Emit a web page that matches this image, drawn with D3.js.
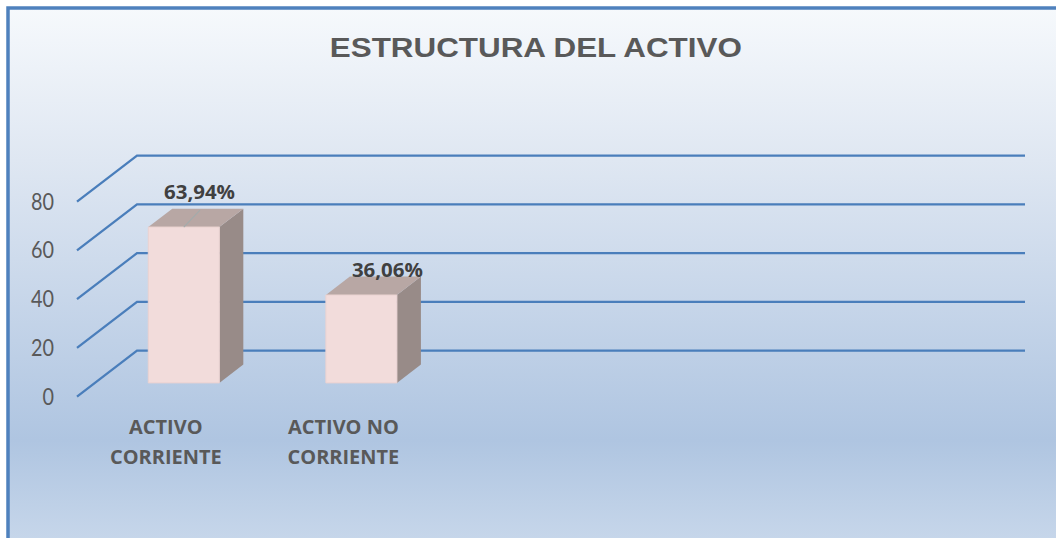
<!DOCTYPE html>
<html><head><meta charset="utf-8">
<script src="https://cdn.jsdelivr.net/npm/d3@7"></script>
<style>html,body{margin:0;padding:0;background:#fff;} svg{display:block}</style>
</head><body>
<svg id="chart" width="1056" height="538"></svg>
<script>
// ---- data ----
const title = "ESTRUCTURA DEL ACTIVO";
const categories = ["ACTIVO CORRIENTE", "ACTIVO NO CORRIENTE", "", "", ""];
const values = [63.94, 36.06, null, null, null];
const valueLabels = ["63,94%", "36,06%", null, null, null];
const yTicks = [0, 20, 40, 60, 80];
const yMax = 80;

// ---- layout ----
const svg = d3.select("#chart");
const defs = svg.append("defs");
const grad = defs.append("linearGradient").attr("id", "bg")
  .attr("gradientUnits", "userSpaceOnUse")
  .attr("x1", 0).attr("y1", 8).attr("x2", 0).attr("y2", 538);
[[0, "#f6f9fc"], [0.287, "#dfe7f2"], [0.815, "#afc5e1"], [1, "#c6d6ea"]]
  .forEach(([o, c]) => grad.append("stop").attr("offset", o).attr("stop-color", c));

svg.append("rect").attr("x", 8).attr("y", 8).attr("width", 1090).attr("height", 570)
  .attr("fill", "url(#bg)").attr("stroke", "#4f81bd").attr("stroke-width", 3.5);

const ctx = document.createElement("canvas").getContext("2d");
function kFor(font, sample, target) { ctx.font = font; return target / ctx.measureText(sample).width; }

const depth = { dx: 60, dy: -46 };
const x = d3.scaleBand().domain(d3.range(categories.length)).range([77, 965])
  .paddingInner(0.6).paddingOuter(0.3);
const y = d3.scaleLinear().domain([0, yMax]).range([396.7, 201.7]);
const P = (px, v, z) => [px + z * depth.dx, y(v) + z * depth.dy];
const [xl, xr] = x.range();

// gridlines (side wall diagonal + back wall horizontal)
svg.append("g").selectAll("path").data(yTicks).join("path")
  .attr("d", t => d3.line()([P(xl, t, 0), P(xl, t, 1), P(xr, t, 1)]))
  .attr("fill", "none").attr("stroke", "#4a7ebb").attr("stroke-width", 2.3);

// y tick labels
const tickFont = "22.5px Lato";
const kTick = kFor(tickFont, "80", 23);
svg.append("g").selectAll("text").data(yTicks).join("text")
  .attr("transform", t => `translate(54,${y(t) + 8}) scale(${kTick},1)`)
  .attr("text-anchor", "end").style("font", tickFont).attr("fill", "#595959")
  .text(t => t);

// bars
const z0 = 0.3, z1 = 0.7;
const w = x.bandwidth();
const barData = values.map((v, i) => ({ i, v })).filter(d => d.v != null);
const gb = svg.append("g");
barData.forEach(d => {
  const x0 = x(d.i), x1 = x0 + w;
  const poly = pts => d3.line()(pts) + "Z";
  gb.append("path").attr("d", poly([P(x1, 0, z0), P(x1, 0, z1), P(x1, d.v, z1), P(x1, d.v, z0)]))
    .attr("fill", "#988b88");
  gb.append("path").attr("d", poly([P(x0, d.v, z0), P(x1, d.v, z0), P(x1, d.v, z1), P(x0, d.v, z1)]))
    .attr("fill", "#b8a7a4");
  gb.append("path").attr("d", poly([P(x0, 0, z0), P(x1, 0, z0), P(x1, d.v, z0), P(x0, d.v, z0)]))
    .attr("fill", "#f2dcdb").attr("stroke", "#ead2d1").attr("stroke-width", 1);
});

// value labels (first one was moved manually in the original, with a leader line)
const labelFont = "bold 20px 'Open Sans'";
const kLab = kFor(labelFont, "63,94%", 71);
const moved = { index: 0, dx: -10.3, dy: -9.6 };
barData.forEach(d => {
  const [bx, by] = P(x(d.i) + w / 2, d.v, 0.5);
  let cx = bx + 14, base = y(d.v) + z1 * depth.dy;
  if (d.i === moved.index) {
    cx += moved.dx; base += moved.dy;
    const [fx, fy] = P(x(d.i) + w / 2, d.v, z0);
    svg.append("line").attr("x1", fx).attr("y1", fy).attr("x2", cx + 0.5).attr("y2", base + 11)
      .attr("stroke", "#a3abab").attr("stroke-width", 1.2);
  }
  svg.append("text").attr("transform", `translate(${cx},${base}) scale(${kLab},1)`)
    .attr("text-anchor", "middle").style("font", labelFont).attr("fill", "#404040")
    .text(valueLabels[d.i]);
});

// category labels
const catFont = "bold 19.5px 'Open Sans'";
const kCat = kFor(catFont, "CORRIENTE", 111.7);
categories.forEach((c, i) => {
  if (!c) return;
  const words = c.split(" ");
  const lines = [words.slice(0, -1).join(" "), words[words.length - 1]];
  const cx = x(i) + w / 2;
  lines.forEach((ln, j) => {
    svg.append("text").attr("transform", `translate(${cx},${433.5 + j * 30}) scale(${kCat},1)`)
      .attr("text-anchor", "middle").style("font", catFont).attr("fill", "#595959").text(ln);
  });
});

// title
const titleFont = "bold 28px 'Liberation Sans'";
const kTitle = kFor(titleFont, title, 415);
svg.append("text").attr("transform", `translate(535.8,57.3) scale(${kTitle},1)`)
  .attr("text-anchor", "middle").style("font", titleFont).attr("fill", "#595959").text(title);
</script>
</body></html>
